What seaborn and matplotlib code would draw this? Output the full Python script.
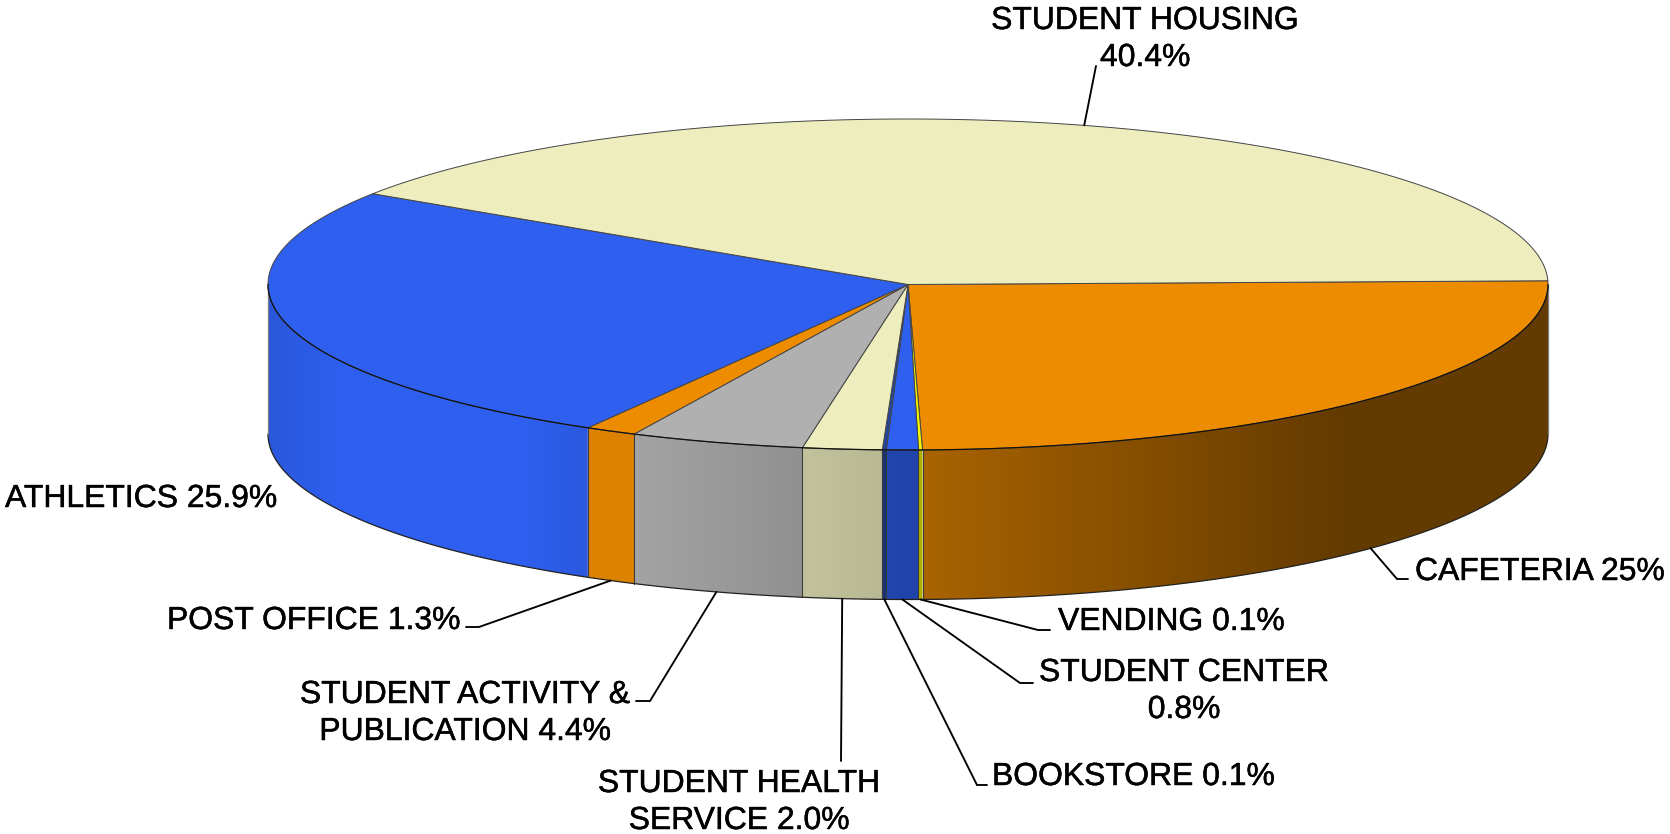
import numpy as np
import matplotlib
matplotlib.use('Agg')
import matplotlib.pyplot as plt
import matplotlib.patheffects as pe
from matplotlib.patches import Polygon
import seaborn as sns

# valeurs, dans le sens horaire a partir de la cafeteria
categories = ['CAFETERIA', 'VENDING', 'STUDENT CENTER', 'BOOKSTORE', 'STUDENT HEALTH SERVICE',
              'STUDENT ACTIVITY & PUBLICATION', 'POST OFFICE', 'ATHLETICS', 'STUDENT HOUSING']
values = [25, 0.1, 0.8, 0.1, 2.0, 4.4, 1.3, 25.9, 40.4]
labels = ['CAFETERIA 25%', 'VENDING 0.1%', 'STUDENT CENTER\n0.8%', 'BOOKSTORE 0.1%',
          'STUDENT HEALTH\nSERVICE 2.0%', 'STUDENT ACTIVITY &\nPUBLICATION 4.4%',
          'POST OFFICE 1.3%', 'ATHLETICS 25.9%', 'STUDENT HOUSING\n40.4%']
colors = ['#EE8C00', '#F6F600', '#2E5FEF', '#22469F', '#EDEDBE',
          '#B0B0B0', '#EE8C00', '#2E5FEF', '#EDEDBE']

# position des textes (x, ligne de base de la premiere ligne, alignement)
label_x = [1415, 1058, 1184, 992, 739, 465, 167, 5, 1145]
label_y = [580, 630, 681, 785, 792, 703, 629, 507, 29]
label_ha = ['left', 'left', 'center', 'left', 'center', 'center', 'left', 'left', 'center']

# lignes de rappel : coude puis fin (None = pas de segment)
elbows = [(1397, 579), (1038, 630), (1020, 683), (977, 785), (841, 761),
          (650, 701), (479, 627), None, (1096, 66)]
ends = [(1408, 579), (1050, 630), (1033, 683), (987, 785), None,
        (636, 701), (466, 627), None, None]

# geometrie de la tarte en pixels
cx, cy = 908, 284.5
rx, ry = 640, 165.5
depth = 149.5
start_angle = 1.3

# eclairage de la face laterale selon x
shade_x = [268, 340, 520, 588, 633, 801, 881, 885, 923, 1340, 1548]
shade_f = [0.91, 1.0, 1.0, 0.93, 0.93, 0.82, 0.78, 0.73, 0.71, 0.42, 0.42]

sns.set_theme(style='white')
plt.rcParams['font.family'] = ['Liberation Sans', 'DejaVu Sans']
palette = sns.color_palette(colors)


def rim(angles, dy=0):
    a = np.radians(angles)
    return cx + rx * np.cos(a), cy - ry * np.sin(a) + dy


fig, ax = plt.subplots(figsize=(16.7, 8.34), dpi=100)
fig.subplots_adjust(0, 0, 1, 1)

sweep = np.array(values) / sum(values) * 360
stops = start_angle - np.concatenate([[0], np.cumsum(sweep)])

# faces laterales (seulement l'avant, de 0 a -180 degres)
for i, color in enumerate(palette):
    a1 = min(stops[i], 0)
    a2 = max(stops[i + 1], -180)
    if a1 <= a2:
        continue
    ang = np.linspace(a1, a2, 120)
    x, y = rim(ang)
    xb, yb = rim(ang, depth)
    poly = np.column_stack([np.r_[x, xb[::-1]], np.r_[y, yb[::-1]]])
    xs = np.linspace(x.min(), x.max(), 256)
    grad = np.outer(np.interp(xs, shade_x, shade_f), np.array(color))[None, :, :]
    im = ax.imshow(grad, extent=(xs[0], xs[-1], yb.max() + 1, y.min() - 1),
                   aspect='auto', interpolation='bilinear', zorder=1)
    patch = Polygon(poly, closed=True, fc='none', ec='none', transform=ax.transData)
    ax.add_patch(patch)
    im.set_clip_path(patch)
    ax.plot([x[0], x[0]], [y[0], yb[0]], color='#3a3a3a', lw=0.75, zorder=2)
    ax.plot([x[-1], x[-1]], [y[-1], yb[-1]], color='#3a3a3a', lw=0.75, zorder=2)
    ax.plot(xb, yb, color='#222222', lw=0.9, zorder=2)

# traits gris aux deux extremites
for a in [0, -180]:
    x, y = rim(a)
    ax.plot([x, x], [y, y + depth], color='#808080', lw=0.9, zorder=2)

# dessus de la tarte
for i, color in enumerate(palette):
    ang = np.linspace(stops[i], stops[i + 1], max(int(sweep[i] * 3), 8))
    x, y = rim(ang)
    ax.fill(np.r_[cx, x], np.r_[cy, y], facecolor=color, edgecolor='#444444',
            lw=0.7, joinstyle='round', zorder=3)

# bord avant bien noir
ang = np.linspace(0, -180, 400)
ax.plot(*rim(ang), color='#111111', lw=0.9, zorder=4)

# lignes de rappel et textes
mids = (stops[:-1] + stops[1:]) / 2
halo = [pe.withStroke(linewidth=0.35, foreground='black')]
for i, label in enumerate(labels):
    if elbows[i] is not None:
        visible = -180 <= mids[i] <= 0
        px, py = rim(mids[i], depth if visible else 0)
        pts = [(px, py), elbows[i]] + ([ends[i]] if ends[i] else [])
        ax.plot(*zip(*pts), color='black', lw=1.35, zorder=5, solid_joinstyle='miter')
    ax.text(label_x[i], label_y[i], label.split('\n')[0], ha=label_ha[i], va='baseline',
            fontsize=22.95, color='black', zorder=6, path_effects=halo)
    if '\n' in label:
        ax.text(label_x[i], label_y[i] + 37, label.split('\n')[1], ha=label_ha[i], va='baseline',
                fontsize=22.95, color='black', zorder=6, path_effects=halo)

ax.set_xlim(0, 1670)
ax.set_ylim(834, 0)
ax.axis('off')
fig.savefig('out.png', dpi=100, facecolor='white')
